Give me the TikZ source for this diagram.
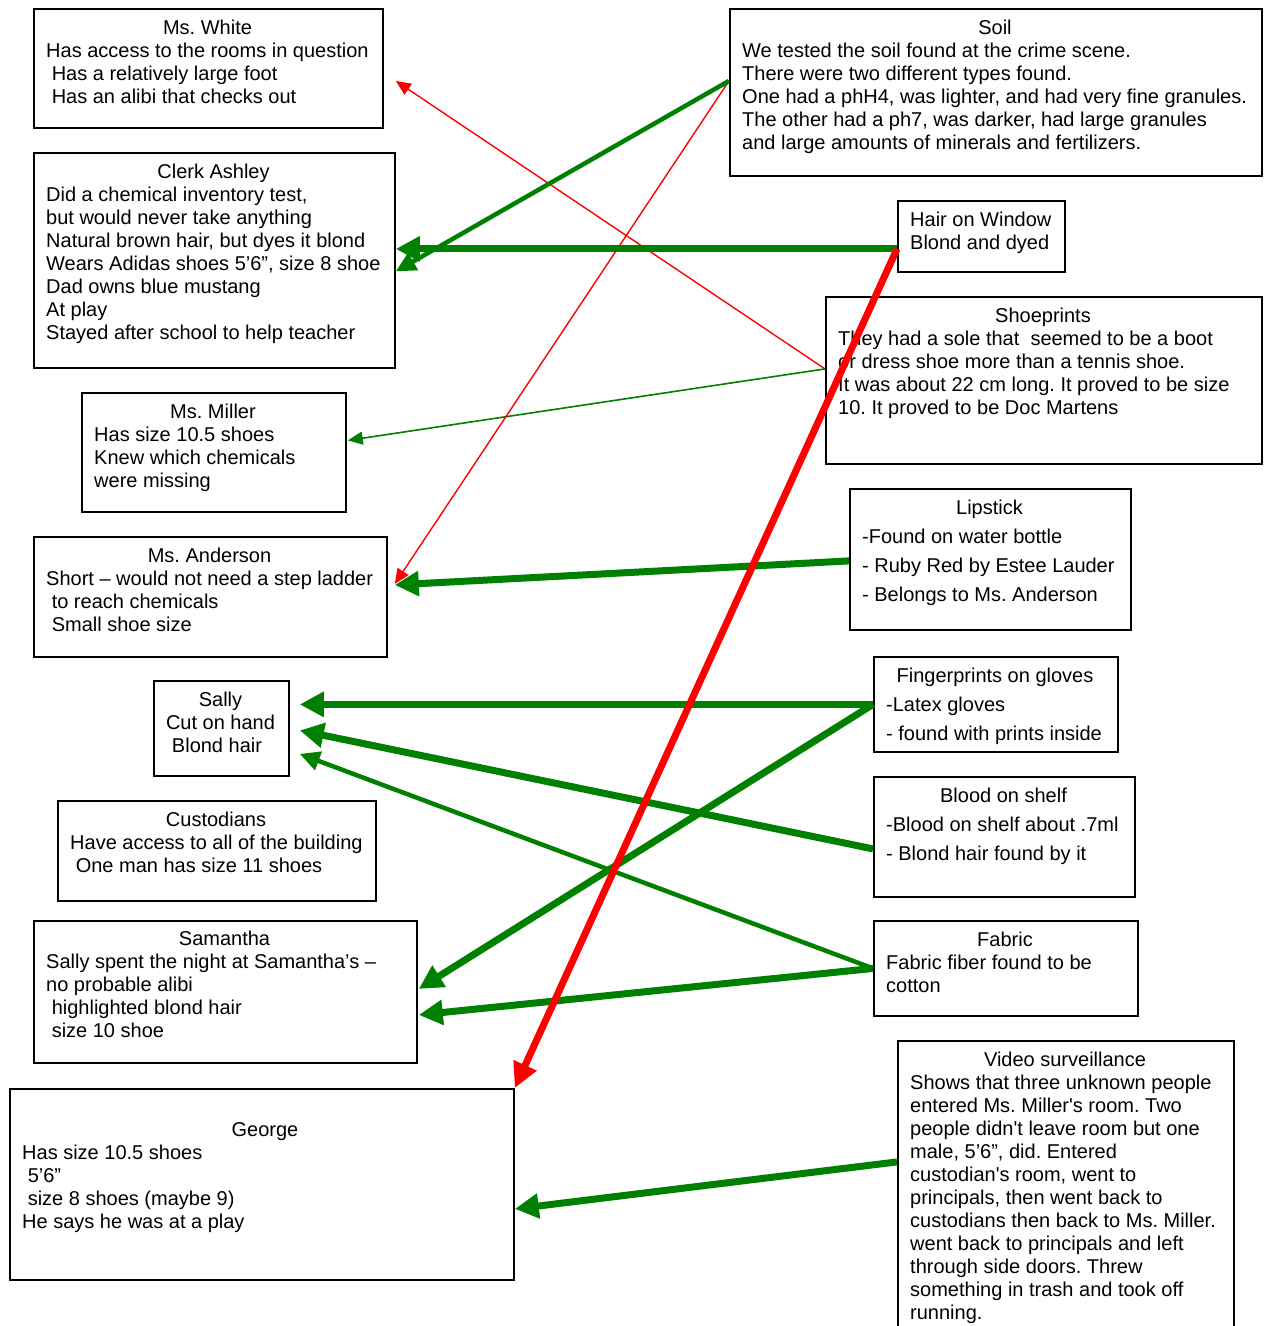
\documentclass[tikz,border=0pt]{standalone}
\usepackage{fontspec}
\setmainfont{Liberation Sans}[Ligatures=TeXOff]
\usetikzlibrary{arrows.meta,calc}
\definecolor{dg}{RGB}{0,128,0}
\definecolor{rd}{RGB}{255,0,0}
\newcommand\lsp{\hspace*{5.56pt}}
\newcommand\tlines[5]{\foreach \mytext [count=\i from 0] in {#5}{\node[txt] (#1-\i) at (#2,{#3+#4*\i}) {\mytext};}}
\frenchspacing
\begin{document}
\begin{tikzpicture}[x=1pt,y=-1pt,
  font=\fontsize{20}{23}\selectfont\frenchspacing,
  txt/.style={inner sep=0pt, anchor=base west},
  ttl/.style={inner sep=0pt, anchor=base},
  box/.style={draw, line width=1.8pt, inner sep=0pt, anchor=north west},
  thkG/.style={draw=dg, line width=7pt, -{Triangle[length=24pt,width=24pt]}},
  medG/.style={draw=dg, line width=4.5pt, -{Triangle[length=20pt,width=19pt]}},
  thinG/.style={draw=dg, line width=1.6pt, -{Triangle[length=15pt,width=13pt]}},
  thkR/.style={draw=rd, line width=7pt, -{Triangle[length=25pt,width=24pt]}},
  thinR/.style={draw=rd, line width=1.4pt, -{Triangle[length=15pt,width=13pt]}}]
\fill[white] (0,0) rectangle (1264,1326);
\useasboundingbox (0,0) rectangle (1264,1326);

% ---- left column ----
\node[box, minimum width=349pt, minimum height=119pt] (white) at (33,8) {};
\node[ttl] (white-t) at (207.5,34) {Ms. White};
\tlines{white}{46}{57}{23}{{Has access to the rooms in question},{\lsp Has a relatively large foot},{\lsp Has an alibi that checks out}}

\node[box, minimum width=361pt, minimum height=215pt] (clerk) at (33,152) {};
\node[ttl] (clerk-t) at (213.5,178) {Clerk Ashley};
\tlines{clerk}{46}{201}{23}{{Did a chemical inventory test,},{but would never take anything},{Natural brown hair, but dyes it blond},{Wears Adidas shoes 5’6”, size 8 shoe},{Dad owns blue mustang},{At play},{Stayed after school to help teacher}}

\node[box, minimum width=264pt, minimum height=119pt] (miller) at (81,392) {};
\node[ttl] (miller-t) at (213,418) {Ms. Miller};
\tlines{miller}{94}{441}{23}{{Has size 10.5 shoes},{Knew which chemicals},{were missing}}

\node[box, minimum width=353pt, minimum height=120pt] (anderson) at (33,536) {};
\node[ttl] (anderson-t) at (209.5,562) {Ms. Anderson};
\tlines{anderson}{46}{585}{23}{{Short – would not need a step ladder},{\lsp to reach chemicals},{\lsp Small shoe size}}

\node[box, minimum width=135pt, minimum height=95pt] (sally) at (153,680) {};
\node[ttl] (sally-t) at (220.5,706) {Sally};
\node[ttl] (sally-1) at (220.5,729) {Cut on hand};
\node[ttl] (sally-2) at (217,752) {Blond hair};

\node[box, minimum width=318pt, minimum height=100pt] (cust) at (57,800) {};
\node[ttl] (cust-t) at (216,826) {Custodians};
\tlines{cust}{70}{849}{23}{{Have access to all of the building},{\lsp One man has size 11 shoes}}

\node[box, minimum width=383pt, minimum height=142pt] (sam) at (33,920) {};
\node[ttl] (sam-t) at (224.5,945) {Samantha};
\tlines{sam}{46}{968}{23}{{Sally spent the night at Samantha’s –},{no probable alibi},{\lsp highlighted blond hair},{\lsp size 10 shoe}}

\node[box, minimum width=504pt, minimum height=191pt] (george) at (9,1088) {};
\node[ttl] (george-t) at (265,1136) {George};
\tlines{george}{22}{1159}{23}{{Has size 10.5 shoes},{\lsp 5’6”},{\lsp size 8 shoes (maybe 9)},{He says he was at a play}}

% ---- right column ----
\node[box, minimum width=532pt, minimum height=167pt] (soil) at (729,8) {};
\node[ttl] (soil-t) at (995,34) {Soil};
\tlines{soil}{742}{57}{23}{{We tested the soil found at the crime scene.},{There were two different types found.},{One had a phH4, was lighter, and had very fine granules.},{The other had a ph7, was darker, had large granules},{and large amounts of minerals and fertilizers.}}

\node[box, minimum width=167pt, minimum height=71pt] (hair) at (897,200) {};
\tlines{hair}{910}{226}{23}{{Hair on Window},{Blond and dyed}}

\node[box, minimum width=436pt, minimum height=167pt] (shoe) at (825,296) {};
\node[ttl] (shoe-t) at (1043,322) {Shoeprints};
\tlines{shoe}{838}{345}{23}{{They had a sole that \ seemed to be a boot},{or dress shoe more than a tennis shoe.},{It was about 22 cm long. It proved to be size},{10. It proved to be Doc Martens}}

\node[box, minimum width=281pt, minimum height=141pt] (lip) at (849,488) {};
\node[ttl] (lip-t) at (989.5,514) {Lipstick};
\tlines{lip}{862}{543}{29}{{-Found on water bottle},{- Ruby Red by Estee Lauder},{- Belongs to Ms. Anderson}}

\node[box, minimum width=244pt, minimum height=95pt] (fing) at (873,656) {};
\node[ttl] (fing-t) at (995,682) {Fingerprints on gloves};
\tlines{fing}{886}{711}{29}{{-Latex gloves},{- found with prints inside}}

\node[box, minimum width=261pt, minimum height=120pt] (blood) at (873,776) {};
\node[ttl] (blood-t) at (1003.5,802) {Blood on shelf};
\tlines{blood}{886}{831}{29}{{-Blood on shelf about .7ml},{- Blond hair found by it}}

\node[box, minimum width=264pt, minimum height=95pt] (fab) at (873,920) {};
\node[ttl] (fab-t) at (1005,946) {Fabric};
\tlines{fab}{886}{969}{23}{{Fabric fiber found to be},{cotton}}

\node[box, minimum width=336pt, minimum height=300pt] (video) at (897,1040) {};
\node[ttl] (video-t) at (1065,1066) {Video surveillance};
\tlines{video}{910}{1089}{23}{{Shows that three unknown people},{entered Ms. Miller's room. Two},{people didn't leave room but one},{male, 5’6”, did. Entered},{custodian's room, went to},{principals, then went back to},{custodians then back to Ms. Miller.},{went back to principals and left},{through side doors. Threw},{something in trash and took off},{running.}}

% ---- connectors ----
\draw[thinR] ($(shoe.west)+(0,-11.5)$) -- ($(white.east)+(12,12.5)$);
\draw[thinG] ($(shoe.west)+(0,-11.5)$) -- ($(miller.east)+(1,-12)$);
\draw[thinR] ($(soil.west)+(0,-11.5)$) -- ($(anderson.east)+(7,-13)$);
\draw[medG] ($(soil.west)+(0,-11.5)$) -- ($(clerk.east)+(0,11)$);
\draw[thkG] ($(hair.west)+(0,12.5)$) -- ($(clerk.east)+(0,-11.5)$);
\draw[thkG] ($(lip.west)+(0,1.5)$) -- ($(anderson.east)+(7,-12)$);
\draw[thkG] (fing.west) -- ($(sally.east)+(10,-24)$);
\draw[thkG] (fing.west) -- ($(sam.east)+(1,-3)$);
\draw[thkG] ($(blood.west)+(0,12)$) -- ($(sally.east)+(10,2)$);
\draw[medG] (fab.west) -- ($(sally.east)+(10,25.5)$);
\draw[thkG] (fab.west) -- ($(sam.east)+(1,23)$);
\draw[thkG] ($(video.west)+(0,-29)$) -- ($(george.east)+(0,24.5)$);
\draw[thkR] ($(hair.west)+(0,12.5)$) -- (george.north east);
\end{tikzpicture}
\end{document}
